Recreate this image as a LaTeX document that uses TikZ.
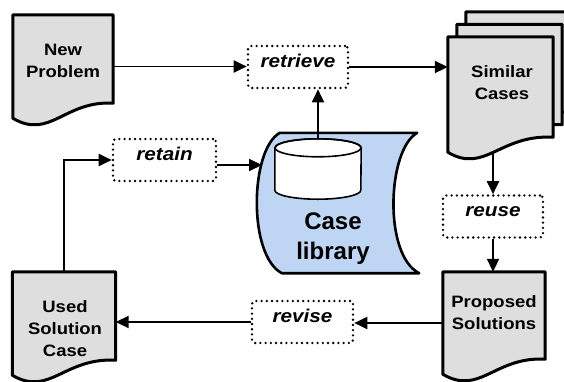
\documentclass[tikz,border=0pt]{standalone}
\usepackage{fontspec}
\setmainfont{Liberation Sans}[FakeStretch=1.12]
\newfontfamily\libfont{Liberation Sans}
\usetikzlibrary{arrows.meta,calc}
\definecolor{docgray}{RGB}{222,222,222}
\definecolor{libblue}{RGB}{190,214,243}
\tikzset{
  docframe/.style={rectangle, inner sep=0pt},
  docline/.style={draw=black, fill=docgray, line width=3pt, line join=round},
  doctext/.style={align=center, inner sep=0pt, font=\fontsize{16.5}{22}\selectfont\bfseries},
  labelbox/.style={draw, line width=2.6pt, dash pattern=on 0pt off 5.2pt, line cap=round,
    rounded corners=3pt, minimum height=42pt, inner sep=0pt, text height=6pt, text depth=6pt,
    font=\fontsize{18.5}{22}\selectfont\bfseries\itshape},
  conn/.style={line width=1.9pt, -{Triangle[length=13pt,width=12pt]}},
  cyl/.style={draw, fill=white, line width=1.6pt},
}
% document outline with a wavy bottom edge, built on a node's corners
\newcommand\docoutline[1]{%
  \path[docline] (#1.north west) -- (#1.north east) -- ($(#1.south east)+(0,-15)$)
    .. controls ($(#1.south west)+(52,-18)$) and ($(#1.south west)+(37,22)$) .. (#1.south west) -- cycle;}
\begin{document}
\begin{tikzpicture}[x=1pt,y=-1pt]
\useasboundingbox (0,0) rectangle (564,381);
\clip (0,0) rectangle (564,381);

% document frames
\node[docframe, minimum width=100pt, minimum height=103pt] (np) at (63,66.5) {};
\node[docframe, minimum width=105pt, minimum height=115pt] (sc3) at (518.5,69.5) {};
\node[docframe, minimum width=105pt, minimum height=115pt] (sc2) at (509.5,82) {};
\node[docframe, minimum width=105pt, minimum height=115pt] (sc) at (500.5,94.5) {};
\node[docframe, minimum width=102pt, minimum height=102pt] (ps) at (494,323) {};
\node[docframe, minimum width=103pt, minimum height=103pt] (us) at (64,323.5) {};

\docoutline{np}
\docoutline{sc3}
\docoutline{sc2}
\docoutline{sc}
\docoutline{ps}
\docoutline{us}

\node[doctext] (np-t) at (63,60.5) {New\\Problem};
\node[doctext] (sc-t) at (502,82.5) {Similar\\Cases};
\node[doctext] (ps-t) at (494,313) {Proposed\\Solutions};
\node[doctext] (us-t) at (65,329) {Used\\Solution\\Case};

% case library (stored data shape)
\node[rectangle, inner sep=0pt, minimum width=137pt, minimum height=140pt] (lib) at (348.5,203) {};
\path[draw=black, fill=libblue, line width=2.6pt, line join=round]
  (lib.north west) -- (lib.north east)
  .. controls ($(lib.north east)+(-30,17)$) and ($(lib.south east)+(-34,-18)$) .. ($(lib.south east)+(2,0)$)
  -- ($(lib.south west)+(2,0)$)
  .. controls ($(lib.south west)+(-32,-18)$) and ($(lib.north west)+(-30,17)$) .. (lib.north west) -- cycle;
\coordinate (libin) at (262,165);

% database cylinder
\node[rectangle, inner sep=0pt, minimum width=86pt, minimum height=60pt] (db) at (318,169) {};
\path[cyl] ($(db.north west)+(0,9)$) -- ($(db.south west)+(0,-9)$)
  arc[start angle=180, end angle=360, x radius=43pt, y radius=9pt]
  -- ($(db.north east)+(0,9)$)
  arc[start angle=0, end angle=180, x radius=43pt, y radius=9pt] -- cycle;
\draw[line width=1.6pt] ($(db.north)+(0,9)$) ellipse[x radius=43pt, y radius=9pt];

\node[inner sep=0pt, align=center, font=\libfont\fontsize{24}{30}\selectfont\bfseries] (lib-t) at (333,239) {Case\\library};

% process steps
\node[labelbox, minimum width=100pt] (retrieve) at (298,67) {retrieve};
\node[labelbox, minimum width=103pt] (retain) at (164.5,160) {retain};
\node[labelbox, minimum width=100pt] (reuse) at (493,216.5) {reuse};
\node[labelbox, minimum width=101pt] (revise) at (302.5,322) {revise};

% connectors
\draw[conn] (np.east) -- (np.east -| retrieve.west);
\draw[conn] (retrieve.east) -- (retrieve.east -| sc.west);
\draw[conn] (db.north) -- (db.north |- retrieve.south);
\draw[conn] (reuse.north |- sc.south) -- (reuse.north);
\draw[conn] (reuse.south) -- (reuse.south |- ps.north);
\draw[conn] (ps.west) -- (ps.west -| revise.east);
\draw[conn] (revise.west) -- (revise.west -| us.east);
\draw[conn] (us.north) |- (retain.west);
\draw[conn] ($(retain.east)+(0,5)$) -- (libin);
\end{tikzpicture}
\end{document}
